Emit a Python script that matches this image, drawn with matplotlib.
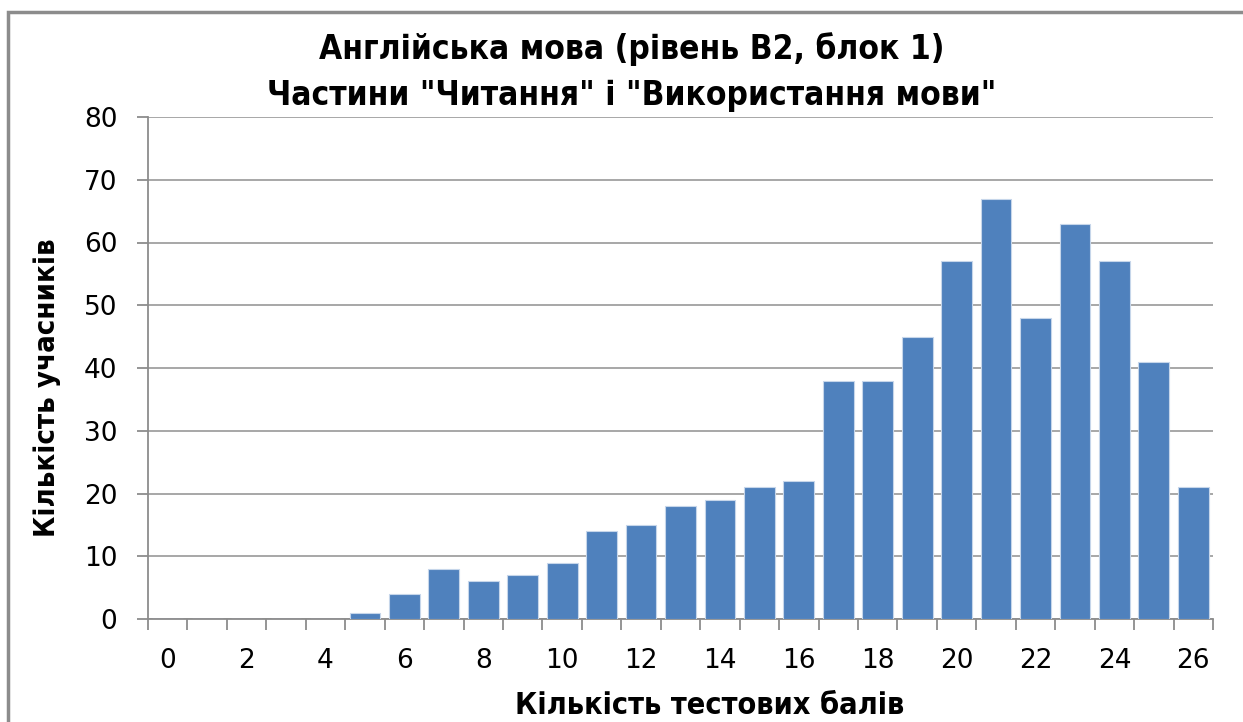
import numpy as np
import matplotlib.pyplot as plt
from matplotlib.patches import Rectangle

# --- Data ---
scores = list(range(0, 27))
counts = [0, 0, 0, 0, 0, 1, 4, 8, 6, 7, 9, 14, 15, 18, 19, 21, 22,
          38, 38, 45, 57, 67, 48, 63, 57, 41, 21]
y_ticks = [0, 10, 20, 30, 40, 50, 60, 70, 80]

title_1 = 'Англійська мова (рівень В2, блок 1)'
title_2 = 'Частини "Читання" і "Використання мови"'
x_label = 'Кількість тестових балів'
y_label = 'Кількість учасників'

bold = dict(fontweight='bold', family='DejaVu Sans', fontstretch='condensed')

W, H = 1243, 722
fig = plt.figure(figsize=(W / 100, H / 100), dpi=100)
ax = fig.add_axes([148 / W, 1 - 619 / H, (1213 - 148) / W, (619 - 117) / H])

# chart border (open to the right and bottom like the screenshot)
fig.patches.append(Rectangle((8 / W, -0.1), 1.2, 1 - 12 / H + 0.1,
                             transform=fig.transFigure, fill=False,
                             edgecolor='#8c8c8c', linewidth=2.5))

ax.bar(scores, counts, width=0.78, color='#4f81bd', edgecolor='#c6d6ea',
       linewidth=0.8, zorder=3)

ax.set_xlim(-0.5, 26.5)
ax.set_ylim(0, 80)
ax.set_yticks(y_ticks)
ax.yaxis.grid(True, color='#a0a0a0', linewidth=1.3, zorder=0)

ax.set_xticks(scores[::2])
ax.set_xticks(np.arange(-0.5, 27, 1), minor=True)
ax.tick_params(axis='x', which='major', length=0, pad=21, labelsize=19)
ax.tick_params(axis='x', which='minor', length=8, width=1.3, color='#8c8c8c')
ax.tick_params(axis='y', length=8, width=1.3, color='#8c8c8c', labelsize=19, pad=14)

for s in ['top', 'right']:
    ax.spines[s].set_visible(False)
for s in ['left', 'bottom']:
    ax.spines[s].set_color('#8c8c8c')
    ax.spines[s].set_linewidth(1.3)

fig.text(0.508, 1 - 49 / H, title_1, ha='center', va='center', fontsize=24, **bold)
fig.text(0.508, 1 - 96 / H, title_2, ha='center', va='center', fontsize=24, **bold)
fig.text(0.571, 1 - 705 / H, x_label, ha='center', va='center', fontsize=22, **bold)
fig.text(47 / W, 1 - 388 / H, y_label, ha='center', va='center', fontsize=21,
         rotation=90, **bold)

fig.savefig('out.png', dpi=100)
